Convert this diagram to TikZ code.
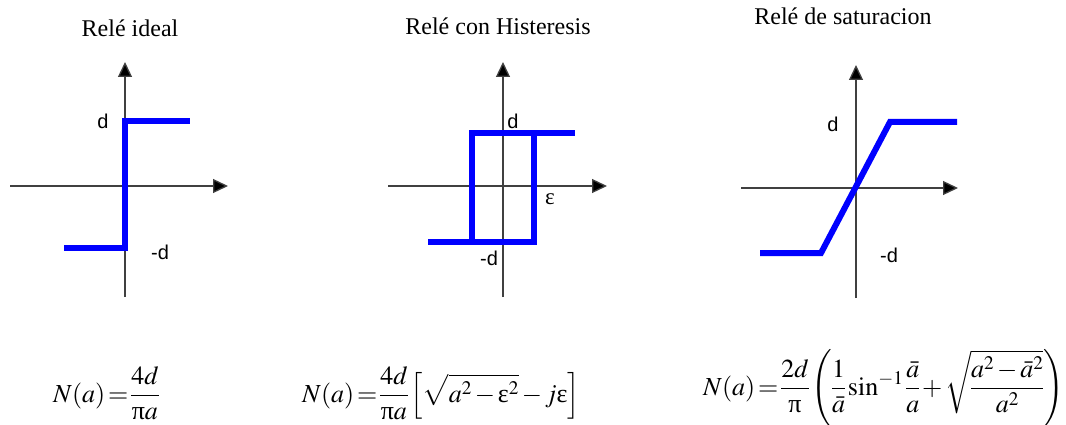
\documentclass[tikz,border=0pt]{standalone}
\usepackage{mathptmx}
\usepackage{fontspec}
\setmainfont{Liberation Serif}
\setsansfont{Liberation Sans}
\usetikzlibrary{arrows.meta}
\definecolor{relblue}{RGB}{0,0,255}
\newcommand{\upi}{\mbox{π}}
\newcommand{\ueps}{\mbox{ε}}
\newcommand{\tightmath}{\thickmuskip=2mu plus 1mu\relax\medmuskip=2mu plus 1mu\relax\nulldelimiterspace=0pt\relax}
\begin{document}
\begin{tikzpicture}[x=1pt,y=-1pt,
  axis/.style={line width=1.3pt, draw=black!75, -{Triangle[length=15pt,width=14pt,fill=black]}},
  curve/.style={line width=6pt, draw=relblue, line join=miter, line cap=butt},
  title/.style={font=\fontsize{24}{28}\selectfont, anchor=base, inner sep=0pt},
  lbl/.style={font=\sffamily\fontsize{20}{24}\selectfont, inner sep=0pt},
  formula/.style={font=\fontsize{26}{30}\selectfont, anchor=base west, inner sep=0pt}]
\useasboundingbox (0,0) rectangle (1066,425);
% ---------- Plot 1: ideal relay ----------
\coordinate (y1b) at (125,297); \coordinate (y1t) at (125,62);
\coordinate (x1l) at (10,186);  \coordinate (x1r) at (228,186);
\draw[axis] (y1b) -- (y1t);
\draw[axis] (x1l) -- (x1r);
\coordinate (p1a) at (64,248); \coordinate (p1b) at (125,248);
\coordinate (p1c) at (125,121); \coordinate (p1d) at (190,121);
\draw[curve] (p1a) -- (p1b) -- (p1c) -- (p1d);
\node[title] (t1) at (130,37) {Relé ideal};
\node[lbl] (d1) at (103,121) {d};
\node[lbl] (md1) at (160,252) {-d};
% ---------- Plot 2: relay with hysteresis ----------
\coordinate (y2b) at (503,297); \coordinate (y2t) at (503,62);
\coordinate (x2l) at (388,186); \coordinate (x2r) at (607,186);
\draw[axis] (y2b) -- (y2t);
\draw[axis] (x2l) -- (x2r);
\coordinate (p2tl) at (472,133); \coordinate (p2tr) at (534,133);
\coordinate (p2bl) at (472,242); \coordinate (p2br) at (534,242);
\coordinate (p2te) at (575,133); \coordinate (p2be) at (428,242);
\draw[curve] (p2tl) rectangle (p2br);
\draw[curve] (p2tr) -- (p2te);
\draw[curve] (p2be) -- (p2bl);
\node[title] (t2) at (498,35) {Relé con Histeresis};
\node[lbl] (d2) at (513,121) {d};
\node[lbl] (md2) at (489,258) {-d};
\node[inner sep=0pt, font=\fontsize{23}{26}\selectfont] (eps) at (550,199) {ε};
% ---------- Plot 3: saturation ----------
\coordinate (y3b) at (856,298); \coordinate (y3t) at (856,65);
\coordinate (x3l) at (741,188); \coordinate (x3r) at (958,188);
\draw[axis] (y3b) -- (y3t);
\draw[axis] (x3l) -- (x3r);
\coordinate (p3a) at (760,253); \coordinate (p3b) at (821,253);
\coordinate (p3c) at (890,122); \coordinate (p3d) at (957,122);
\draw[curve] (p3a) -- (p3b) -- (p3c) -- (p3d);
\node[title] (t3) at (843,25) {Relé de saturacion};
\node[lbl] (d3) at (833,124) {d};
\node[lbl] (md3) at (889,255) {-d};
% ---------- Formulas ----------
\node[formula] (f1) at (53,402) {$\tightmath\displaystyle N(a)=\frac{4d}{\upi a}$};
\node[formula] (f2) at (302,402) {$\tightmath\displaystyle N(a)=\frac{4d}{\upi a}\left[\sqrt{a^2-\ueps^2}-j\ueps\right]$};
\node[formula] (f3) at (703,395) {$\tightmath\displaystyle N(a)=\frac{2d}{\upi}\left(\frac{1}{\bar a}\sin^{-1}\frac{\bar a}{a}+\sqrt{\frac{a^2-\bar a^2}{a^2}}\right)$};
\end{tikzpicture}
\end{document}
